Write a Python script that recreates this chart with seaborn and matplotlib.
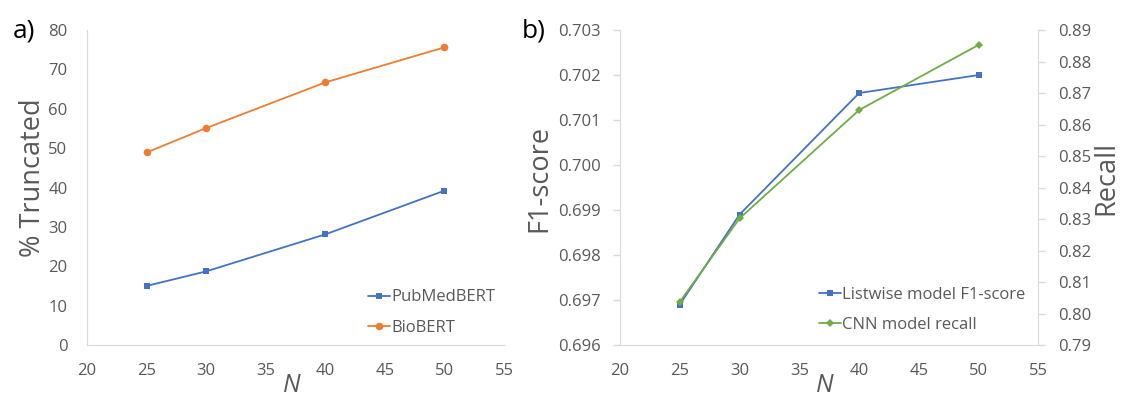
import numpy as np
import matplotlib.pyplot as plt
import seaborn as sns

# Panel a) data
n_values = [25, 30, 40, 50]
pubmedbert_truncated = [15.0, 18.7, 28.1, 39.2]
biobert_truncated = [48.9, 55.1, 66.7, 75.6]

# Panel b) data
listwise_f1 = [0.6969, 0.6989, 0.7016, 0.7020]
cnn_recall = [0.8037, 0.8302, 0.8646, 0.8853]

BLUE = '#4472C4'
ORANGE = '#ED7D31'
GREEN = '#70AD47'
TEXT = '#595959'
SPINE = '#D9D9D9'
LABEL_SIZE = 19.5
TICK_SIZE = 12

sns.set_style('white')
plt.rcParams['font.family'] = ['Open Sans', 'DejaVu Sans']


def style_axis(ax, right=False):
    for side in ['top', 'right', 'left', 'bottom']:
        ax.spines[side].set_visible(False)
    ax.spines['bottom'].set_visible(True)
    ax.spines['bottom'].set_color(SPINE)
    side = 'right' if right else 'left'
    ax.spines[side].set_visible(True)
    ax.spines[side].set_color(SPINE)
    ax.tick_params(axis='both', which='both', colors=SPINE, labelcolor=TEXT,
                   labelsize=TICK_SIZE, length=5, width=1, direction='out')
    ax.tick_params(axis='x', pad=8)
    ax.tick_params(axis='y', pad=9)


def add_legend(ax, handles, labels, x, y):
    ax.legend(handles, labels, loc='center left', bbox_to_anchor=(x, y),
              frameon=False, fontsize=TICK_SIZE, labelcolor=TEXT,
              handlelength=1.3, handletextpad=0.1, borderaxespad=0,
              borderpad=0, labelspacing=0.85)


fig = plt.figure(figsize=(11.21, 4.08), dpi=100)
ax_a = fig.add_axes([0.0776, 0.1544, 0.372, 0.772])
ax_b = fig.add_axes([0.5531, 0.1544, 0.3733, 0.772])

# a)
sns.lineplot(x=n_values, y=pubmedbert_truncated, ax=ax_a, color=BLUE, marker='s',
             markersize=5, markeredgewidth=0, linewidth=1.3, legend=False)
sns.lineplot(x=n_values, y=biobert_truncated, ax=ax_a, color=ORANGE, marker='o',
             markersize=5.5, markeredgewidth=0, linewidth=1.3, legend=False)
ax_a.set_xlim(20, 55)
ax_a.set_ylim(0, 80)
ax_a.set_xticks(range(20, 56, 5))
ax_a.set_yticks(range(0, 81, 10))
style_axis(ax_a)
ax_a.set_xlabel('N', fontsize=18, style='italic', color=TEXT, va='top')
ax_a.xaxis.set_label_coords(0.49, -0.089)
ax_a.set_ylabel('% Truncated', fontsize=LABEL_SIZE, color=TEXT, va='center')
ax_a.yaxis.set_label_coords(-0.13, 0.53)
add_legend(ax_a, ax_a.get_lines(), ['PubMedBERT', 'BioBERT'], 0.674, 0.103)

# b)
sns.lineplot(x=n_values, y=listwise_f1, ax=ax_b, color=BLUE, marker='s',
             markersize=5, markeredgewidth=0, linewidth=1.3, legend=False)
ax_b.set_xlim(20, 55)
ax_b.set_ylim(0.696, 0.703)
ax_b.set_xticks(range(20, 56, 5))
ax_b.set_yticks(np.arange(0.696, 0.70301, 0.001))
ax_b.yaxis.set_major_formatter(plt.FormatStrFormatter('%.3f'))
style_axis(ax_b)
ax_b.set_xlabel('N', fontsize=18, style='italic', color=TEXT, va='top')
ax_b.xaxis.set_label_coords(0.49, -0.089)
ax_b.set_ylabel('F1-score', fontsize=LABEL_SIZE, color=TEXT, va='center')
ax_b.yaxis.set_label_coords(-0.192, 0.53)

ax_r = ax_b.twinx()
sns.lineplot(x=n_values, y=cnn_recall, ax=ax_r, color=GREEN, marker='D',
             markersize=4, markeredgewidth=0, linewidth=1.3, legend=False)
ax_r.set_ylim(0.79, 0.89)
ax_r.set_yticks(np.arange(0.79, 0.8901, 0.01))
ax_r.yaxis.set_major_formatter(plt.FormatStrFormatter('%.2f'))
style_axis(ax_r, right=True)
ax_r.spines['bottom'].set_visible(False)
ax_r.set_ylabel('Recall', fontsize=LABEL_SIZE, color=TEXT, va='center',
                rotation=90)
ax_r.yaxis.set_label_coords(1.162, 0.53)

handles = ax_b.get_lines()[:1] + ax_r.get_lines()[:1]
add_legend(ax_b, handles, ['Listwise model F1-score', 'CNN model recall'],
           0.4755, 0.111)

fig.text(0.0113, 0.9076, 'a)', fontsize=19, color='black', va='baseline')
fig.text(0.4655, 0.9076, 'b)', fontsize=19, color='black', va='baseline')

plt.savefig('out.png', dpi=100)
